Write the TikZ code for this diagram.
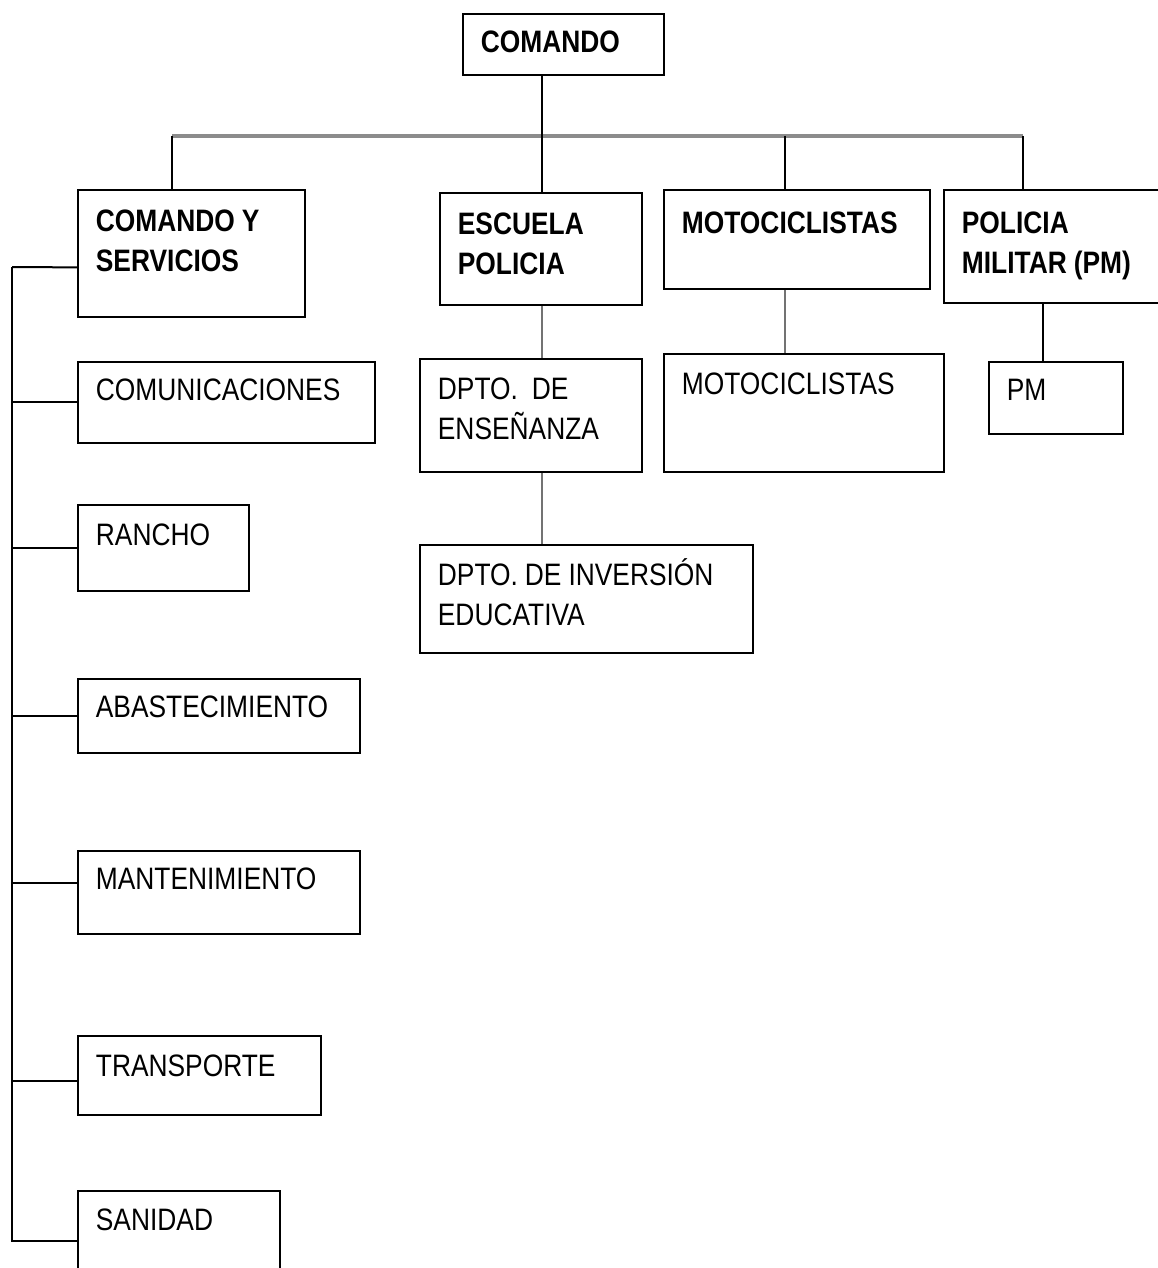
\documentclass[tikz,border=0pt]{standalone}
\usepackage{fontspec}
\setmainfont{Liberation Sans}[FakeStretch=0.85]
\usetikzlibrary{calc}
\newcommand{\orgfont}{\fontsize{31}{40}\selectfont}

\begin{document}
\begin{tikzpicture}[x=1pt,y=-1pt,
  box/.style n args={3}{draw,line width=1.8pt,anchor=north west,inner xsep=18pt,inner ysep=0pt,align=left,font=\orgfont,execute at begin node={\spaceskip=7pt\relax},text width=#1,text height=#2,text depth=#3},
  head/.style={font=\orgfont\bfseries},
  tie/.style={draw,line width=2pt},
  grey/.style={draw=black!55,line width=2.8pt},
  bar/.style={draw=black!45,line width=4pt}]
\useasboundingbox (0,0) rectangle (1157,1268);
% top level
\node[box={165pt}{39pt}{22pt},head] (cmd) at (462,13) {COMANDO};
\node[box={191pt}{42pt}{85pt},head] (cys) at (77,189) {COMANDO Y\\SERVICIOS};
\node[box={166pt}{42pt}{70pt},head] (esc) at (439,192) {ESCUELA\\POLICIA};
\node[box={230pt}{44pt}{55pt},head] (moto) at (663,189) {MOTOCICLISTAS};
\node[box={194pt}{44pt}{69pt},head] (pmil) at (943,189) {POLICIA\\MILITAR (PM)};
% second level
\node[box={186pt}{41pt}{72pt}] (ens) at (419,358) {DPTO.\ \ DE\\ENSEÑANZA};
\node[box={297pt}{41pt}{67pt}] (inv) at (419,544) {DPTO. DE INVERSIÓN\\EDUCATIVA};
\node[box={244pt}{41pt}{77pt}] (motos) at (663,353) {MOTOCICLISTAS};
\node[box={98pt}{39pt}{33pt}] (pm) at (988,361) {PM};
\node[box={261pt}{39pt}{42pt}] (com) at (77,361) {COMUNICACIONES};
\node[box={135pt}{41pt}{45pt}] (ran) at (77,504) {RANCHO};
\node[box={246pt}{39pt}{35pt}] (abs) at (77,678) {ABASTECIMIENTO};
\node[box={246pt}{39pt}{44pt}] (man) at (77,850) {MANTENIMIENTO};
\node[box={207pt}{41pt}{38pt}] (tra) at (77,1035) {TRANSPORTE};
\node[box={166pt}{40pt}{60pt}] (san) at (77,1190) {SANIDAD};
% connectors
\coordinate (j1) at (172,136);
\coordinate (j2) at (542,136);
\coordinate (j3) at (785,136);
\coordinate (j4) at (1023,136);
\coordinate (j5) at (1043,330);
\draw[bar] (j1) -- (j4);
\draw[tie] (j2 |- cmd.south) -- (j2 |- esc.north);
\foreach \j/\n in {j1/cys,j3/moto,j4/pmil}
  \draw[tie] (\j) -- (\j |- \n.north);
\draw[grey] (j2 |- esc.south) -- (j2 |- ens.north);
\draw[grey] (j2 |- ens.south) -- (j2 |- inv.north);
\draw[grey] (j3 |- moto.south) -- (j3 |- motos.north);
\draw[tie] (j5 |- pmil.south) -- (j5 |- pm.north);
% left trunk
\path (cys.west) ++(0,14) coordinate (ecys);
\coordinate (t) at (12,267);
\draw[tie] (t) -- (ecys);
\draw[tie] (t) |- (san.west);
\foreach \n/\d in {com/0,ran/0,abs/0,man/-9,tra/6}{
  \path (\n.west) ++(0,\d) coordinate (e\n);
  \draw[tie] (t |- e\n) -- (e\n);
}
\end{tikzpicture}
\end{document}
